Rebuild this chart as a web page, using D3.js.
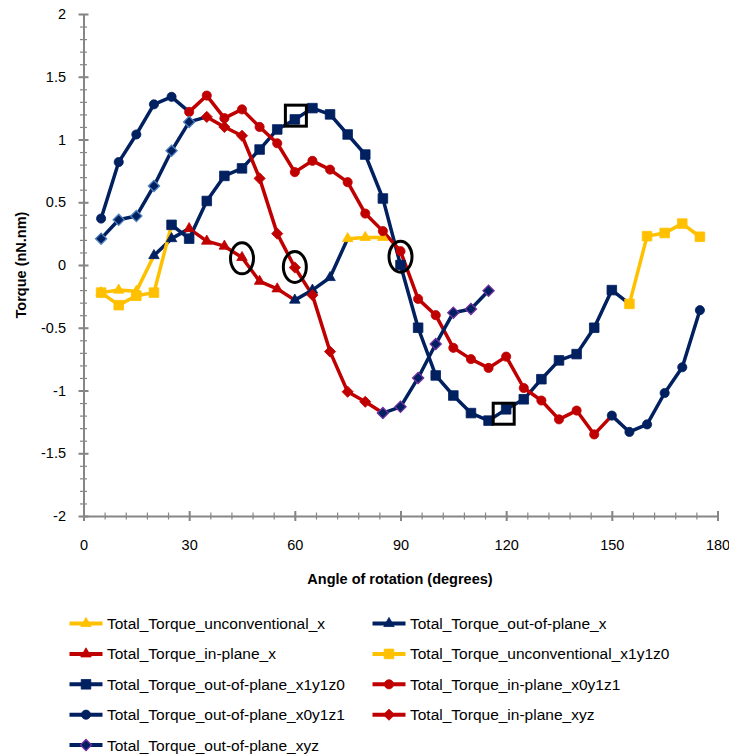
<!DOCTYPE html>
<html>
<head>
<meta charset="utf-8">
<script src="https://cdn.jsdelivr.net/npm/d3@7"></script>
<style>
  body { margin: 0; background: #fff; }
  text { font-family: "Liberation Sans", Arial, sans-serif; fill: #000; }
</style>
</head>
<body>
<svg id="chart" width="729" height="754"></svg>
<script>
// rotation angles (degrees), one value per angle in every series below, null = no point
const angles = [5, 10, 15, 20, 25, 30, 35, 40, 45, 50, 55, 60, 65, 70, 75, 80, 85, 90,
  95, 100, 105, 110, 115, 120, 125, 130, 135, 140, 145, 150, 155, 160, 165, 170, 175];

const unconventionalX = [-0.22, -0.20, -0.21, 0.075, null, null, null, null, null, null,
  null, null, null, null, 0.21, 0.22, 0.22, null, null, null, null, null, null, null, null,
  null, null, null, null, null, null, null, null, null, null];
const outOfPlaneX = [null, null, null, 0.075, 0.21, 0.29, null, null, null, null,
  null, -0.28, -0.20, -0.10, 0.21, null, null, null, null, null, null, null, null, null, null,
  null, null, null, null, null, null, null, null, null, null];
const inPlaneX = [null, null, null, null, null, 0.29, 0.19, 0.15, 0.06, -0.13,
  -0.19, -0.28, null, null, null, null, null, null, null, null, null, null, null, null, null,
  null, null, null, null, null, null, null, null, null, null];
const unconventionalX1y1z0 = [-0.22, -0.32, -0.245, -0.22, 0.32, null, null, null, null, null,
  null, null, null, null, null, null, null, null, null, null, null, null, null, null, null,
  null, null, null, null, null, -0.31, 0.23, 0.255, 0.33, 0.225];
const outOfPlaneX1y1z0 = [null, null, null, null, 0.32, 0.21, 0.51, 0.71, 0.77, 0.92,
  1.08, 1.16, 1.25, 1.20, 1.04, 0.88, 0.53, 0.0, -0.50, -0.88, -1.04, -1.18, -1.24, -1.15, -1.07,
  -0.91, -0.76, -0.71, -0.50, -0.20, -0.31, null, null, null, null];
const inPlaneX0y1z1 = [null, null, null, null, null, 1.22, 1.35, 1.17, 1.24, 1.10,
  0.97, 0.74, 0.83, 0.76, 0.66, 0.41, 0.27, 0.11, -0.27, -0.40, -0.66, -0.75, -0.82, -0.73, -0.98,
  -1.08, -1.23, -1.16, -1.35, -1.20, null, null, null, null, null];
const outOfPlaneX0y1z1 = [0.37, 0.82, 1.04, 1.28, 1.34, 1.22, null, null, null, null,
  null, null, null, null, null, null, null, null, null, null, null, null, null, null, null,
  null, null, null, null, -1.20, -1.33, -1.27, -1.02, -0.815, -0.36];
const inPlaneXyz = [null, null, null, null, null, null, 1.18, 1.10, 1.03, 0.69,
  0.25, -0.02, -0.24, -0.69, -1.01, -1.09, -1.18, null, null, null, null, null, null, null, null,
  null, null, null, null, null, null, null, null, null, null];
const outOfPlaneXyz = [0.21, 0.36, 0.39, 0.63, 0.91, 1.14, 1.18, null, null, null,
  null, null, null, null, null, null, -1.18, -1.13, -0.90, -0.63, -0.38, -0.35, -0.205, null, null,
  null, null, null, null, null, null, null, null, null, null];

// points that are circled / boxed on the figure
const highlightAngles = [45, 60, 90, 60.3, 119.3];
const highlightValues = [0.053, -0.016, 0.066, 1.19, -1.185];
const highlightShapes = ["ellipse", "ellipse", "ellipse", "box", "box"];

const xTicks = [0, 30, 60, 90, 120, 150, 180];
const yTicks = [-2, -1.5, -1, -0.5, 0, 0.5, 1, 1.5, 2];

const YELLOW = "#ffc000", NAVY = "#002060", RED = "#c00000";

const series = [
  { name: "Total_Torque_unconventional_x", values: unconventionalX, color: YELLOW, symbol: "triangle" },
  { name: "Total_Torque_out-of-plane_x", values: outOfPlaneX, color: NAVY, symbol: "triangle" },
  { name: "Total_Torque_in-plane_x", values: inPlaneX, color: RED, symbol: "triangle" },
  { name: "Total_Torque_unconventional_x1y1z0", values: unconventionalX1y1z0, color: YELLOW, symbol: "square" },
  { name: "Total_Torque_out-of-plane_x1y1z0", values: outOfPlaneX1y1z0, color: NAVY, symbol: "square" },
  { name: "Total_Torque_in-plane_x0y1z1", values: inPlaneX0y1z1, color: RED, symbol: "circle" },
  { name: "Total_Torque_out-of-plane_x0y1z1", values: outOfPlaneX0y1z1, color: NAVY, symbol: "circle" },
  { name: "Total_Torque_in-plane_xyz", values: inPlaneXyz, color: RED, symbol: "diamond" },
  { name: "Total_Torque_out-of-plane_xyz", values: outOfPlaneXyz, color: NAVY, symbol: "diamond",
    outline: a => a < 60 ? "#4f81bd" : "#7030a0" }
];

const svg = d3.select("#chart");
const x = d3.scaleLinear().domain([0, 180]).range([83.5, 717.5]);
const y = d3.scaleLinear().domain([-2, 2]).range([516, 14]);

const symbolPath = (kind) => {
  if (kind === "triangle") return d3.symbol(d3.symbolTriangle, 48)();
  if (kind === "square") return d3.symbol(d3.symbolSquare, 92)();
  if (kind === "circle") return d3.symbol(d3.symbolCircle, 66)();
  return d3.symbol(d3.symbolSquare, 62)(); // rotated later -> diamond
};

// ---- axes ----
const axisColor = "#868686";

const xMinor = svg.append("g").attr("transform", "translate(0,516)")
  .call(d3.axisBottom(x).tickValues(d3.range(0, 181, 6)).tickSize(3.5).tickFormat(""));
xMinor.select(".domain").remove();
xMinor.selectAll(".tick line").attr("y1", -3.5).attr("stroke", axisColor).attr("stroke-width", 1.2);

const yMinor = svg.append("g").attr("transform", "translate(83.5,0)")
  .call(d3.axisLeft(y).tickValues(d3.range(-20, 21, 1).map(d => d / 10)).tickSize(3.5).tickFormat(""));
yMinor.select(".domain").remove();
yMinor.selectAll(".tick line").attr("x1", 3.5).attr("stroke", axisColor).attr("stroke-width", 1.2);

// excel style labels: plain hyphen for negatives
const plain = d => String(d);

const xAxis = svg.append("g").attr("transform", "translate(0,516)")
  .call(d3.axisBottom(x).tickValues(xTicks).tickSize(5).tickSizeOuter(0).tickPadding(19).tickFormat(plain));
xAxis.select(".domain").attr("stroke", axisColor).attr("stroke-width", 2);
xAxis.selectAll(".tick line").attr("y1", -5).attr("stroke", axisColor).attr("stroke-width", 2);
xAxis.selectAll(".tick text").style("font-size", "14.5px").attr("fill", "#000");

const yAxis = svg.append("g").attr("transform", "translate(83.5,0)")
  .call(d3.axisLeft(y).tickValues(yTicks).tickSize(5).tickSizeOuter(0).tickPadding(12.5).tickFormat(plain));
yAxis.select(".domain").attr("stroke", axisColor).attr("stroke-width", 2);
yAxis.selectAll(".tick line").attr("x1", 5).attr("stroke", axisColor).attr("stroke-width", 2);
yAxis.selectAll(".tick text").style("font-size", "14.5px").attr("fill", "#000");

svg.append("text").attr("x", 400).attr("y", 584).attr("text-anchor", "middle")
  .style("font-size", "14.5px").style("font-weight", "bold").text("Angle of rotation (degrees)");
svg.append("text").attr("transform", "translate(26,265) rotate(-90)").attr("text-anchor", "middle")
  .style("font-size", "14.5px").style("font-weight", "bold").text("Torque (nN.nm)");

// ---- lines ----
const line = d3.line()
  .defined(d => d.v !== null)
  .x(d => x(d.a))
  .y(d => y(d.v));

const plot = svg.append("g");
series.forEach(s => {
  const pts = angles.map((a, i) => ({ a, v: s.values[i] }));
  plot.append("path").datum(pts)
    .attr("fill", "none").attr("stroke", s.color).attr("stroke-width", 3.5)
    .attr("stroke-linejoin", "round").attr("d", line);
});

// a point where one series hands over to another carries the marker of the series that continues
const handsOver = (s, i) => {
  if (s.values[i + 1] !== null && s.values[i + 1] !== undefined) return false;
  return series.some(o => o !== s && o.values[i] !== null && o.values[i + 1] != null &&
    Math.abs(o.values[i] - s.values[i]) < 1e-6);
};

series.forEach(s => {
  const pts = angles.map((a, i) => ({ a, v: s.values[i], i }))
    .filter(d => d.v !== null && !handsOver(s, d.i));
  plot.append("g").selectAll("path").data(pts).join("path")
    .attr("d", symbolPath(s.symbol))
    .attr("transform", d => `translate(${x(d.a)},${y(d.v)})` + (s.symbol === "diamond" ? " rotate(45)" : ""))
    .attr("fill", s.color)
    .attr("stroke", d => s.outline ? s.outline(d.a) : s.color)
    .attr("stroke-width", s.outline ? 1.3 : 0.8);
});

// ---- highlights ----
highlightAngles.forEach((a, i) => {
  const cx = x(a), cy = y(highlightValues[i]);
  if (highlightShapes[i] === "ellipse") {
    svg.append("ellipse").attr("cx", cx).attr("cy", cy).attr("rx", 11.5).attr("ry", 15.5)
      .attr("fill", "none").attr("stroke", "#000").attr("stroke-width", 3);
  } else {
    svg.append("rect").attr("x", cx - 10.5).attr("y", cy - 10.5).attr("width", 21).attr("height", 21)
      .attr("fill", "none").attr("stroke", "#000").attr("stroke-width", 3);
  }
});

// ---- legend ----
const legend = svg.append("g");
series.forEach((s, i) => {
  const col = i % 2, row = Math.floor(i / 2);
  const lx = col === 0 ? 69.5 : 372.5;
  const ly = 623.5 + row * 30.4;
  const item = legend.append("g").attr("transform", `translate(${lx},${ly})`);
  item.append("line").attr("x1", 0).attr("x2", 33).attr("y1", 0).attr("y2", 0)
    .attr("stroke", s.color).attr("stroke-width", 4);
  item.append("path").attr("d", symbolPath(s.symbol))
    .attr("transform", "translate(16.5,0)" + (s.symbol === "diamond" ? " rotate(45)" : ""))
    .attr("fill", s.color)
    .attr("stroke", s.outline ? "#7030a0" : s.color).attr("stroke-width", s.outline ? 1.3 : 0.8);
  item.append("text").attr("x", 37.5).attr("y", 5.5).style("font-size", "15.5px").text(s.name);
});
</script>
</body>
</html>
